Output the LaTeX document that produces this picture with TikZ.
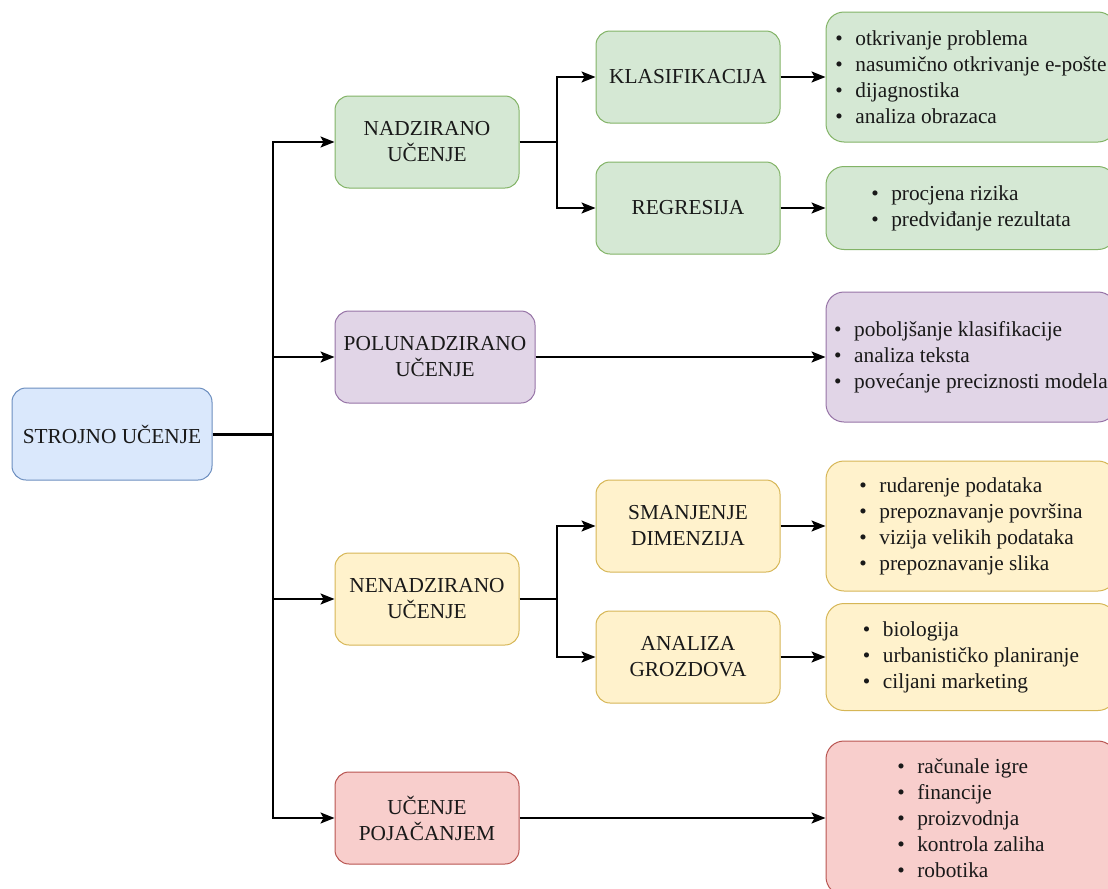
\documentclass[tikz,border=0pt]{standalone}
\usepackage{fontspec}
\setmainfont{Liberation Serif}
\usetikzlibrary{arrows.meta}
\usetikzlibrary{positioning}

\definecolor{blueF}{HTML}{DAE8FC}\definecolor{blueD}{HTML}{6C8EBF}
\definecolor{greenF}{HTML}{D5E8D4}\definecolor{greenD}{HTML}{82B366}
\definecolor{violetF}{HTML}{E1D5E7}\definecolor{violetD}{HTML}{9673A6}
\definecolor{yellowF}{HTML}{FFF2CC}\definecolor{yellowD}{HTML}{D6B656}
\definecolor{redF}{HTML}{F8CECC}\definecolor{redD}{HTML}{B85450}

\newcommand{\li}[1]{\makebox[15pt][l]{\textbullet}#1}

\begin{document}
\begin{tikzpicture}[x=0.75pt,y=-0.75pt,->,>={Stealth[length=10.5pt,width=8.25pt,inset=2.25pt]}]
			\tikzset{box/.style = {shape=rectangle, rounded corners=10.5pt, line width=0.75pt, draw, align=center,
					font=\fontsize{16pt}{19.5pt}\selectfont, text=black!90, minimum width=138pt, minimum height=69pt, inner sep=1.5pt},
				listbox/.style = {box, align=left, rounded corners=13.5pt, minimum width=217.5pt},
				link/.style = {line width=1.125pt, black}}
			
			\useasboundingbox (0,0) rectangle (1108,889);
			\clip (0,0) rectangle (1108,889);
			
			% first level
			\node[box, fill=blueF, draw=blueD, minimum width=150pt] (STROJNO) at (112,434) {STROJNO UČENJE};
			\node[box, fill=greenF, draw=greenD] (NADZ) at (427,142) {NADZIRANO\\UČENJE};
			\node[box, fill=violetF, draw=violetD, minimum width=150pt] (POLU) at (435,357) {POLUNADZIRANO\\UČENJE};
			\node[box, fill=yellowF, draw=yellowD] (NENADZ) at (427,599) {NENADZIRANO\\UČENJE};
			\node[box, fill=redF, draw=redD] (POJAC) at (427,818) {UČENJE\\POJAČANJEM};
			
			% second level
			\node[box, fill=greenF, draw=greenD] (KLAS) at (688,77) {KLASIFIKACIJA};
			\node[box, fill=greenF, draw=greenD] (REGR) at (688,208) {REGRESIJA};
			\node[box, fill=yellowF, draw=yellowD] (SMANJ) at (688,526) {SMANJENJE\\DIMENZIJA};
			\node[box, fill=yellowF, draw=yellowD] (GROZD) at (688,657) {ANALIZA\\GROZDOVA};
			
			% lists
			\node[listbox, fill=greenF, draw=greenD, minimum height=97.5pt] (KLASL) at (971,77)
			{\li{otkrivanje problema}\\
				\li{nasumično otkrivanje e-pošte}\\
				\li{dijagnostika}\\
				\li{analiza obrazaca}};
			\node[listbox, fill=greenF, draw=greenD, minimum height=62.25pt] (REGRL) at (971,208)
			{\li{procjena rizika}\\
				\li{predviđanje rezultata}};
			\node[listbox, fill=violetF, draw=violetD, minimum height=97.5pt] (POLUL) at (971,357)
			{\li{poboljšanje klasifikacije}\\
				\li{analiza teksta}\\
				\li{povećanje preciznosti modela}};
			\node[listbox, fill=yellowF, draw=yellowD, minimum height=97.5pt] (SMANJL) at (971,526)
			{\li{rudarenje podataka}\\
				\li{prepoznavanje površina}\\
				\li{vizija velikih podataka}\\
				\li{prepoznavanje slika}};
			\node[listbox, fill=yellowF, draw=yellowD, minimum height=80.25pt] (GROZDL) at (971,657)
			{\li{biologija}\\
				\li{urbanističko planiranje}\\
				\li{ciljani marketing}};
			\node[listbox, fill=redF, draw=redD, minimum height=115.5pt] (POJACL) at (971,818)
			{\li{računale igre}\\
				\li{financije}\\
				\li{proizvodnja}\\
				\li{kontrola zaliha}\\
				\li{robotika}};
			
			% connectors
			\coordinate (T) at (273,434);
			\coordinate (BN) at (557,142);
			\coordinate (BU) at (557,599);
			\draw[link, -, line width=2.25pt] (STROJNO) -- (T);
			\draw[link] (T) |- (NADZ);
			\draw[link] (T) |- (POLU);
			\draw[link] (T) |- (NENADZ);
			\draw[link] (T) |- (POJAC);
			\draw[link, -] (NADZ) -- (BN);
			\draw[link] (BN) |- (KLAS);
			\draw[link] (BN) |- (REGR);
			\draw[link, -] (NENADZ) -- (BU);
			\draw[link] (BU) |- (SMANJ);
			\draw[link] (BU) |- (GROZD);
			\draw[link] (KLAS) -- (KLASL);
			\draw[link] (REGR) -- (REGRL);
			\draw[link] (POLU) -- (POLUL);
			\draw[link] (SMANJ) -- (SMANJL);
			\draw[link] (GROZD) -- (GROZDL);
			\draw[link] (POJAC) -- (POJACL);
			
			\end{tikzpicture}
\end{document}
